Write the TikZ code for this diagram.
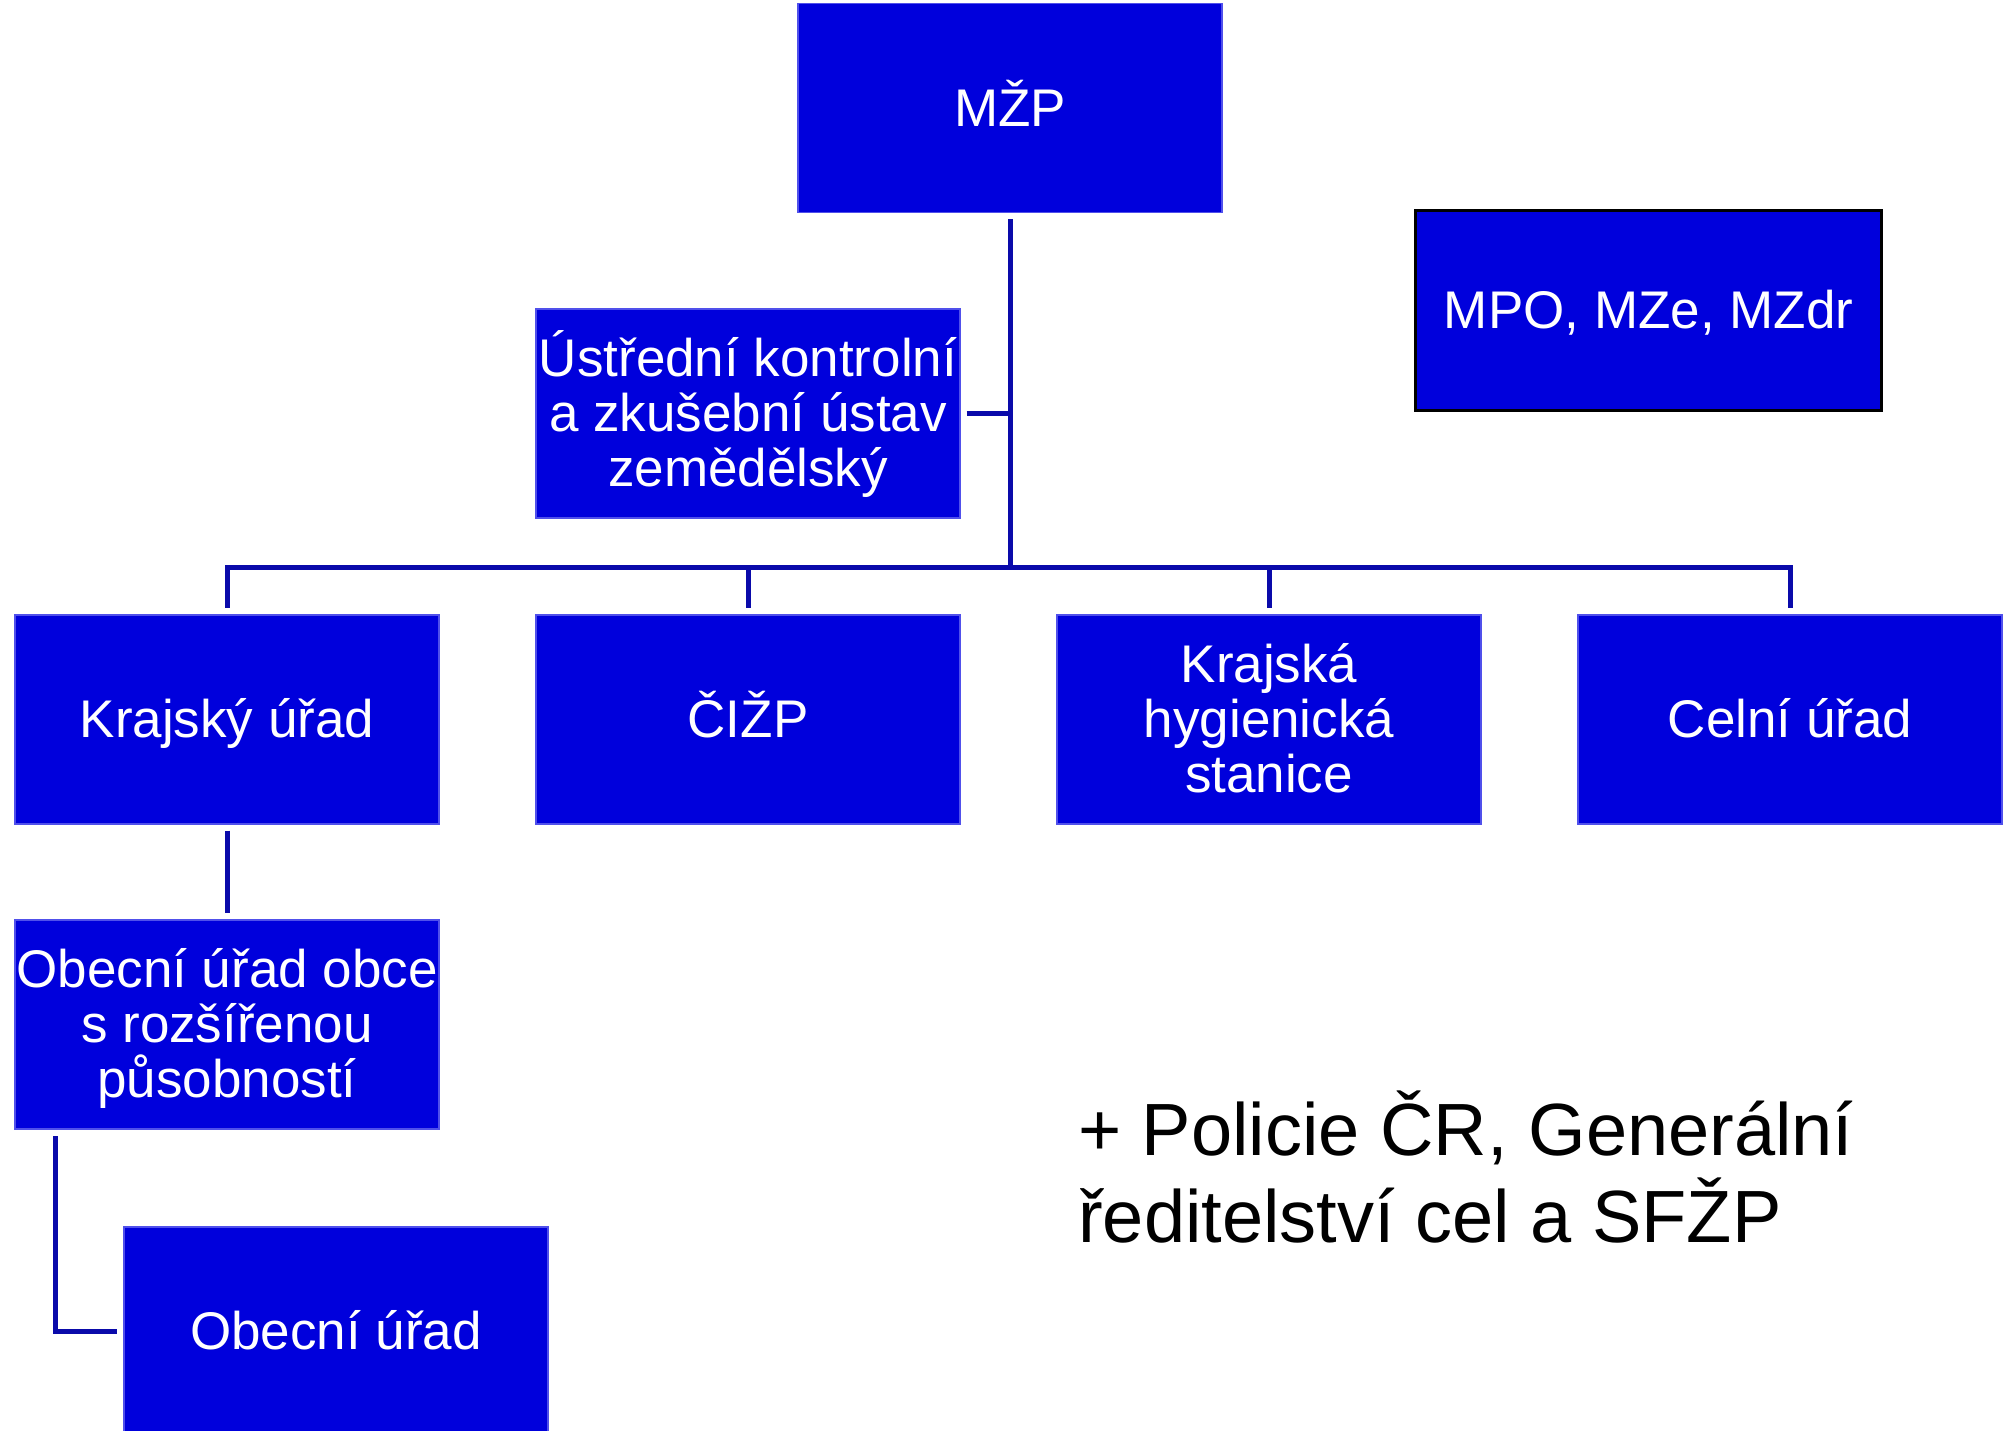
\documentclass[tikz,border=0pt]{standalone}
\usepackage{fontspec}
\setmainfont{Liberation Sans}
\definecolor{boxblue}{RGB}{0,0,220}
\definecolor{boxedge}{RGB}{80,80,235}
\definecolor{lineblue}{RGB}{10,10,170}
\tikzset{
  orgbox/.style={fill=boxblue, draw=boxedge, line width=1.2pt, text=white, align=center,
    minimum width=424pt, minimum height=209pt, inner sep=0pt,
    font=\fontsize{53}{55}\selectfont, text height=48pt, text depth=11.2pt},
  threeline/.style={text height=158pt, text depth=11.2pt},
  conn/.style={draw=lineblue, line width=5pt},
}
\begin{document}
\begin{tikzpicture}[x=1pt,y=-1pt]
\useasboundingbox (0,0) rectangle (2012,1430);
\node[orgbox] (mzp) at (1010,108) {MŽP};
\node[orgbox, draw=black, line width=2.2pt, minimum width=466pt, minimum height=200pt] (mpo) at (1648.5,310.5) {MPO, MZe, MZdr};
\node[orgbox, threeline] (ukzuz) at (748,413.5) {Ústřední kontrolní\\a zkušební ústav\\zemědělský};
\node[orgbox] (kraj) at (227,719.5) {Krajský úřad};
\node[orgbox] (cizp) at (748,719.5) {ČIŽP};
\node[orgbox, threeline] (khs) at (1269,719.5) {Krajská\\hygienická\\stanice};
\node[orgbox] (celni) at (1790,719.5) {Celní úřad};
\node[orgbox, threeline] (orp) at (227,1024.5) {Obecní úřad obce\\s rozšířenou\\působností};
\node[orgbox] (obec) at (336,1331.5) {Obecní úřad};
\node[anchor=base west, align=left, inner sep=0pt, font=\fontsize{74}{87}\selectfont] (note) at (1078,1242) {+ Policie ČR, Generální\\ředitelství cel a SFŽP};
\coordinate (hub) at (1010,567);
\coordinate (orpleft) at (55,1129);
\draw[conn, shorten <=6pt] (mzp.south) -- (hub);
\draw[conn, line cap=rect] (kraj.north |- hub) -- (celni.north |- hub);
\foreach \n in {kraj,cizp,khs,celni}
  \draw[conn, shorten >=6pt] (\n.north |- hub) -- (\n.north);
\draw[conn, shorten <=6pt] (ukzuz.east) -- (ukzuz.east -| hub);
\draw[conn, shorten <=6pt, shorten >=6pt] (kraj.south) -- (orp.north);
\draw[conn, shorten <=7pt, shorten >=6pt] (orpleft) |- (obec.west);
\end{tikzpicture}
\end{document}
